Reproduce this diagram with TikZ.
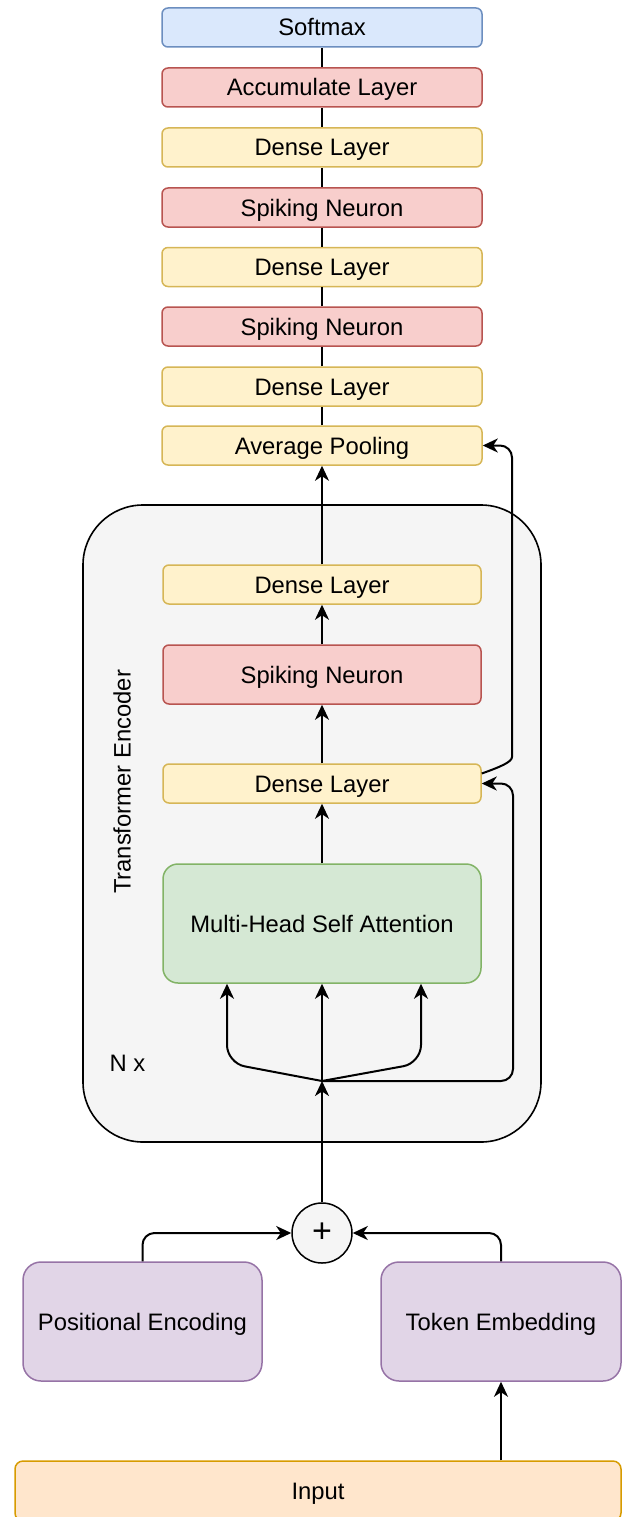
\documentclass[tikz,border=0pt]{standalone}
\usepackage{fontspec}
\setmainfont{Liberation Sans}
\usetikzlibrary{arrows.meta,calc}
\definecolor{blueF}{HTML}{DAE8FC}\definecolor{blueD}{HTML}{6C8EBF}
\definecolor{redF}{HTML}{F8CECC}\definecolor{redD}{HTML}{B85450}
\definecolor{yelF}{HTML}{FFF2CC}\definecolor{yelD}{HTML}{D6B656}
\definecolor{grnF}{HTML}{D5E8D4}\definecolor{grnD}{HTML}{82B366}
\definecolor{purF}{HTML}{E1D5E7}\definecolor{purD}{HTML}{9673A6}
\definecolor{orgF}{HTML}{FFE6CC}\definecolor{orgD}{HTML}{D79B00}
\definecolor{grayF}{HTML}{F5F5F5}
\begin{document}
\begin{tikzpicture}[x=1pt,y=-1pt,
  lbl/.style={font=\fontsize{23.8}{28}\selectfont, text height=17pt, text depth=0pt},
  box/.style={lbl, rounded corners=6pt, line width=1.5pt, inner sep=0pt, minimum width=320pt, minimum height=39pt},
  bluebox/.style={box, fill=blueF, draw=blueD},
  redbox/.style={box, fill=redF, draw=redD},
  yelbox/.style={box, fill=yelF, draw=yelD},
  grnbox/.style={box, fill=grnF, draw=grnD},
  purbox/.style={box, fill=purF, draw=purD, rounded corners=18pt},
  orgbox/.style={box, fill=orgF, draw=orgD, rounded corners=8pt},
  conn/.style={line width=2pt, black},
  arr/.style={conn, -{Stealth[length=15pt,width=14pt,inset=4.5pt]}}
]
\useasboundingbox (0,0) rectangle (624,1517);

% encoder container
\node[draw=black, fill=grayF, line width=1.6pt, rounded corners=60pt, minimum width=458pt, minimum height=637pt, inner sep=0pt] (enc) at (312,823.5) {};

% top stack
\node[bluebox] (sm) at (322,27.5) {Softmax};
\node[redbox] (acc) at (322,87.5) {Accumulate Layer};
\node[yelbox] (d5) at (322,147.5) {Dense Layer};
\node[redbox] (s3) at (322,207.5) {Spiking Neuron};
\node[yelbox] (d4) at (322,267) {Dense Layer};
\node[redbox] (s2) at (322,326.5) {Spiking Neuron};
\node[yelbox] (d3) at (322,386.5) {Dense Layer};
\node[yelbox] (avg) at (322,445.5) {Average Pooling};

% encoder internals
\node[yelbox, minimum width=318pt] (dl3) at (322,584.5) {Dense Layer};
\node[redbox, minimum width=318pt, minimum height=59pt] (sn) at (322,674.5) {Spiking Neuron};
\node[yelbox, minimum width=318pt] (dl1) at (322,783.5) {Dense Layer};
\node[grnbox, minimum width=318pt, minimum height=119pt, rounded corners=15pt] (mhsa) at (322,923.5) {Multi-Head Self Attention};
\node[lbl, rotate=90] (title) at (122,782) {Transformer Encoder};
\node[lbl, anchor=west] (nx) at (106,1063) {N x};

\coordinate (split) at (322,1081);
\coordinate (lc) at (227,1063);
\coordinate (rc) at (421,1063);
\coordinate (r1) at (513,1081);
\coordinate (r2) at (512,745);

% bottom
\node[circle, draw=black, fill=grayF, line width=1.5pt, minimum size=60pt, inner sep=0pt, font=\fontsize{34}{34}\selectfont] (plus) at (322,1233) {+};
\node[purbox, minimum width=239pt, minimum height=119pt] (pe) at (142.5,1321.5) {Positional Encoding};
\node[purbox, minimum width=240pt, minimum height=119pt] (te) at (501,1321.5) {Token Embedding};
\node[orgbox, minimum width=606pt, minimum height=60pt] (inp) at (318,1491) {Input};

% top connectors
\draw[conn] (avg.north) -- (d3.south);
\draw[conn] (d3.north) -- (s2.south);
\draw[conn] (s2.north) -- (d4.south);
\draw[conn] (d4.north) -- (s3.south);
\draw[conn] (s3.north) -- (d5.south);
\draw[conn] (d5.north) -- (acc.south);
\draw[conn] (acc.north) -- (sm.south);

% encoder arrows
\draw[arr] (dl3.north) -- (avg.south);
\draw[arr] (sn.north) -- (dl3.south);
\draw[arr] (dl1.north) -- (sn.south);
\draw[arr] (mhsa.north) -- (dl1.south);
\draw[arr] (split) -- (mhsa.south);
\draw[arr, rounded corners=18pt] (split) -- (lc) -- (lc |- mhsa.south);
\draw[arr, rounded corners=18pt] (split) -- (rc) -- (rc |- mhsa.south);
\draw[arr, rounded corners=12pt] (split) -- (r1) -- (r1 |- dl1.east) -- (dl1.east);
\draw[arr, rounded corners=12pt] ([yshift=10pt]dl1.east) .. controls (500,767) and (512,762) .. (r2) -- (r2 |- avg.east) -- (avg.east);

% bottom arrows
\draw[arr] (plus.north) -- (split);
\draw[arr, rounded corners=12pt] (pe.north) -- (pe.north |- plus.west) -- (plus.west);
\draw[arr, rounded corners=12pt] (te.north) -- (te.north |- plus.east) -- (plus.east);
\draw[arr] (inp.north -| te.north) -- (te.south);
\end{tikzpicture}
\end{document}
